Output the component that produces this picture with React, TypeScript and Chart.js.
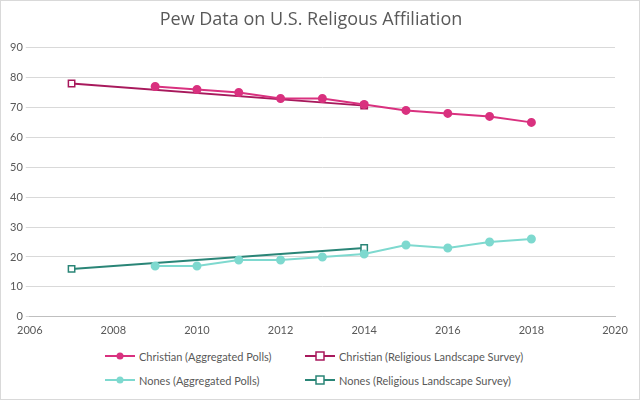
import React, { useEffect, useRef } from "react";
import { Chart, registerables } from "chart.js";
Chart.register(...registerables);

const aggYears = [2009, 2010, 2011, 2012, 2013, 2014, 2015, 2016, 2017, 2018];
const christianAgg = [77, 76, 75, 73, 73, 71, 69, 68, 67, 65];
const nonesAgg = [17, 17, 19, 19, 20, 21, 24, 23, 25, 26];
const rlsYears = [2007, 2014];
const christianRls = [78, 70.6];
const nonesRls = [16, 23];

const C1 = "#D9317F", C2 = "#A8195C", N1 = "#7ED9CF", N2 = "#2A8577";
const pts = (xs: number[], ys: number[]) => xs.map((x, i) => ({ x, y: ys[i] }));

const legendItems = [
  { label: "Christian (Aggregated Polls)", color: C1, square: false },
  { label: "Christian (Religious Landscape Survey)", color: C2, square: true },
  { label: "Nones (Aggregated Polls)", color: N1, square: false },
  { label: "Nones (Religious Landscape Survey)", color: N2, square: true },
];

export default function App() {
  const ref = useRef<HTMLCanvasElement>(null);
  useEffect(() => {
    const chart = new Chart(ref.current!, {
      type: "scatter",
      data: {
        datasets: [
          { label: legendItems[0].label, data: pts(aggYears, christianAgg), showLine: true, borderColor: C1, backgroundColor: C1, pointRadius: 3.5, borderWidth: 2 },
          { label: legendItems[1].label, data: pts(rlsYears, christianRls), showLine: true, borderColor: C2, backgroundColor: "#fff", pointStyle: "rect", pointRadius: 4.5, borderWidth: 2, pointBorderWidth: 1.5 },
          { label: legendItems[2].label, data: pts(aggYears, nonesAgg), showLine: true, borderColor: N1, backgroundColor: N1, pointRadius: 3.5, borderWidth: 2 },
          { label: legendItems[3].label, data: pts(rlsYears, nonesRls), showLine: true, borderColor: N2, backgroundColor: "#fff", pointStyle: "rect", pointRadius: 4.5, borderWidth: 2, pointBorderWidth: 1.5 },
        ],
      },
      options: {
        animation: false,
        responsive: false,
        maintainAspectRatio: false,
        layout: { padding: { left: 6, right: 24, top: 0, bottom: 0 } },
        plugins: {
          legend: { display: false },
          tooltip: { enabled: false },
          title: { display: true, text: "Pew Data on U.S. Religous Affiliation", color: "#595959", font: { size: 18, family: "Open Sans", weight: "normal" }, padding: { top: 8, bottom: 17 } },
        },
        scales: {
          x: { type: "linear", min: 2006, max: 2020, ticks: { stepSize: 2, color: "#595959", font: { size: 11, family: "Lato" }, callback: (v: any) => String(v) }, grid: { display: false, drawTicks: true, tickLength: 4 }, border: { color: "#bfbfbf" } },
          y: { min: 0, max: 90, ticks: { stepSize: 10, color: "#595959", font: { size: 11, family: "Lato" } }, grid: { color: "#d9d9d9", tickLength: 4 }, border: { display: false } },
        },
      },
    });
    return () => chart.destroy();
  }, []);
  return (
    <div style={{ position: "fixed", left: 0, top: 0, width: 638, height: 398, border: "1px solid #d9d9d9", background: "#fff", fontFamily: "Lato" }}>
      <canvas ref={ref} width={638} height={339} style={{ display: "block" }} />
      <div style={{ display: "grid", gridTemplateColumns: "200px 260px", paddingLeft: 104, rowGap: 10, marginTop: 9 }}>
        {legendItems.map((it) => (
          <div key={it.label} style={{ display: "flex", alignItems: "center", fontSize: 11, color: "#595959", height: 14 }}>
            <svg width={30} height={10} style={{ marginRight: 4 }}>
              <line x1={0} y1={5} x2={30} y2={5} stroke={it.color} strokeWidth={2} />
              {it.square ? <rect x={11} y={1} width={8} height={8} fill="#fff" stroke={it.color} strokeWidth={1.5} /> : <circle cx={15} cy={5} r={3.5} fill={it.color} />}
            </svg>
            {it.label}
          </div>
        ))}
      </div>
    </div>
  );
}
